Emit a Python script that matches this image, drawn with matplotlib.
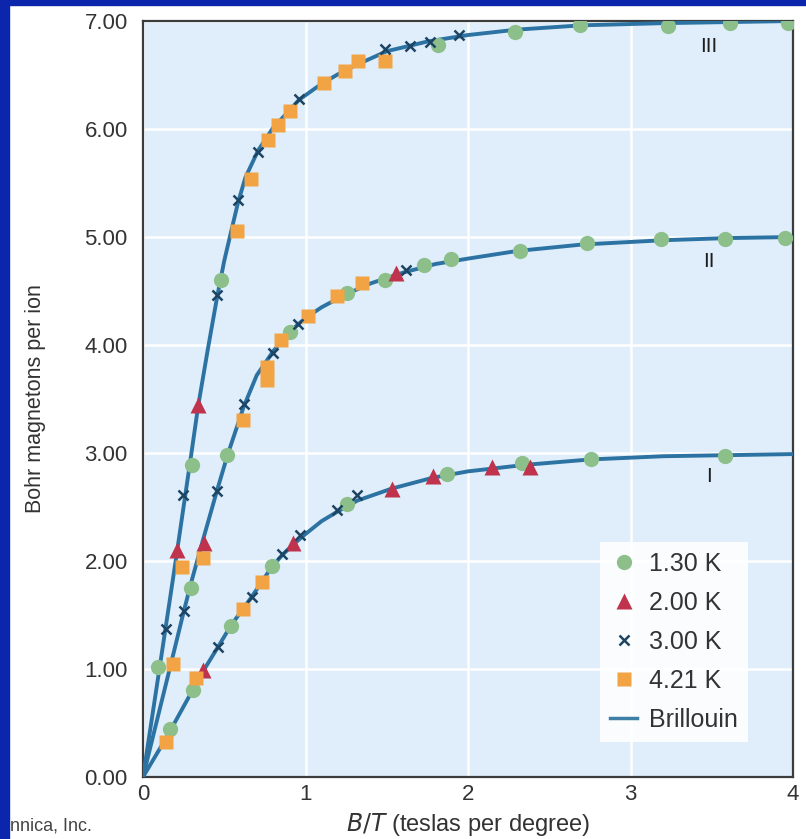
import matplotlib
matplotlib.use("Agg")
import matplotlib.pyplot as plt
from matplotlib.patches import Rectangle

plt.rcParams["font.family"] = ["Liberation Sans", "DejaVu Sans"]

# Measured moments (Bohr magnetons per ion) against B/T, grouped by temperature
t130_x = [0.092, 0.30, 0.48, 1.815, 2.29, 2.69, 3.23, 3.61, 3.97,
          0.295, 0.517, 0.905, 1.255, 1.489, 1.729, 1.895, 2.32, 2.73, 3.19, 3.58, 3.95,
          0.166, 0.308, 0.542, 0.794, 1.255, 1.87, 2.33, 2.757, 3.58]
t130_y = [1.02, 2.89, 4.60, 6.78, 6.90, 6.96, 6.95, 6.98, 6.98,
          1.75, 2.98, 4.12, 4.48, 4.60, 4.74, 4.80, 4.87, 4.94, 4.98, 4.98, 4.99,
          0.444, 0.806, 1.398, 1.954, 2.53, 2.81, 2.91, 2.94, 2.97]

t200_x = [0.209, 0.34,
          0.375, 1.557,
          0.369, 0.923, 1.532, 1.785, 2.148, 2.38]
t200_y = [2.10, 3.44,
          2.17, 4.67,
          0.991, 2.167, 2.67, 2.79, 2.87, 2.87]

t300_x = [0.142, 0.246, 0.458, 0.585, 0.708, 0.96, 1.489, 1.643, 1.766, 1.945,
          0.252, 0.455, 0.622, 0.80, 0.954, 1.618,
          0.462, 0.671, 0.855, 0.966, 1.194, 1.317]
t300_y = [1.37, 2.61, 4.46, 5.34, 5.79, 6.28, 6.74, 6.77, 6.81, 6.87,
          1.537, 2.65, 3.45, 3.93, 4.19, 4.69,
          1.204, 1.667, 2.065, 2.24, 2.47, 2.61]

t421_x = [0.24, 0.578, 0.665, 0.769, 0.831, 0.905, 1.114, 1.243, 1.323, 1.489,
          0.185, 0.369, 0.615, 0.763, 0.763, 0.849, 1.015, 1.194, 1.348,
          0.142, 0.326, 0.615, 0.732]
t421_y = [1.94, 5.06, 5.54, 5.90, 6.04, 6.17, 6.43, 6.54, 6.63, 6.63,
          1.05, 2.03, 3.31, 3.68, 3.80, 4.05, 4.27, 4.45, 4.57,
          0.324, 0.917, 1.556, 1.806]

# Brillouin curves, one per ion (III: J=7/2, II: J=5/2, I: J=3/2)
b3_x = [0, 0.10, 0.20, 0.30, 0.34, 0.40, 0.458, 0.50, 0.55, 0.585, 0.63, 0.708,
        0.80, 0.90, 0.96, 1.10, 1.25, 1.50, 1.75, 2.00, 2.30, 2.70, 3.20, 3.60, 4.00]
b3_y = [0, 0.99, 1.99, 3.02, 3.44, 3.97, 4.46, 4.78, 5.10, 5.32, 5.55, 5.80,
        6.01, 6.17, 6.27, 6.42, 6.55, 6.72, 6.81, 6.87, 6.92, 6.96, 6.98, 6.99, 7.00]
b2_x = [0, 0.10, 0.20, 0.252, 0.30, 0.37, 0.455, 0.52, 0.62, 0.70, 0.80, 0.90,
        1.00, 1.10, 1.25, 1.40, 1.60, 1.80, 2.00, 2.30, 2.70, 3.20, 3.60, 4.00]
b2_y = [0, 0.61, 1.22, 1.54, 1.82, 2.20, 2.65, 2.98, 3.43, 3.72, 3.94, 4.12,
        4.25, 4.35, 4.47, 4.57, 4.67, 4.75, 4.80, 4.87, 4.93, 4.97, 4.99, 5.00]
b1_x = [0, 0.15, 0.30, 0.37, 0.46, 0.54, 0.67, 0.79, 0.86, 0.93, 1.00, 1.10,
        1.20, 1.32, 1.53, 1.78, 2.00, 2.35, 2.75, 3.20, 3.60, 4.00]
b1_y = [0, 0.38, 0.79, 0.98, 1.20, 1.40, 1.67, 1.94, 2.06, 2.16, 2.25, 2.37,
        2.46, 2.56, 2.67, 2.77, 2.83, 2.89, 2.94, 2.97, 2.98, 2.99]

curve_names = ["III", "II", "I"]
curve_label_x = [3.48, 3.48, 3.48]
curve_label_y = [6.76, 4.77, 2.78]

W, H = 806, 839
fig = plt.figure(figsize=(W / 100, H / 100), dpi=100)
fig.patch.set_facecolor("white")

# blue frame strips along the left and top edges
border = "#0b25ad"
fig.patches.append(Rectangle((0, 0), 9 / W, 1, transform=fig.transFigure,
                             color=border, zorder=0))
fig.patches.append(Rectangle((0, 1 - 5 / H), 1, 5 / H, transform=fig.transFigure,
                             color=border, zorder=0))

ax = fig.add_axes([143 / W, (H - 777) / H, 650 / W, 756 / H])
ax.set_facecolor("#dfeefa")

line_c = "#2c73a3"
for bx, by in [(b3_x, b3_y), (b2_x, b2_y), (b1_x, b1_y)]:
    ax.plot(bx, by, color=line_c, lw=2.8, zorder=3, solid_capstyle="round")
ax.plot([], [], color="#3f7fa6", lw=2.5, label="Brillouin")

ax.plot(t130_x, t130_y, "o", ms=11, color="#8dbf8a", mec="none", zorder=4, label="1.30 K")
ax.plot(t200_x, t200_y, "^", ms=11, color="#c0334c", mec="none", zorder=4, label="2.00 K")
ax.plot(t300_x, t300_y, "x", ms=7, mew=1.8, color="#1d4463", zorder=5, label="3.00 K")
ax.plot(t421_x, t421_y, "s", ms=10, color="#f2a445", mec="none", zorder=4, label="4.21 K")

for name, lx, ly in zip(curve_names, curve_label_x, curve_label_y):
    ax.text(lx, ly, name, ha="center", va="center", fontsize=15, color="#1e1e1e",
            zorder=6)

ax.set_xlim(0, 4)
ax.set_ylim(0, 7)
ax.set_xticks([0, 1, 2, 3, 4])
ax.set_yticks(range(8))
ax.set_yticklabels([f"{v:.2f}" for v in range(8)])
ax.grid(True, color="white", lw=1.8)
ax.set_axisbelow(True)
ax.tick_params(length=0, labelsize=16, colors="#333333")
ax.tick_params(axis="y", pad=11)
ax.tick_params(axis="x", pad=5)
for sp in ax.spines.values():
    sp.set_color("#3c3c3c")
    sp.set_linewidth(1.6)

ax.set_xlabel("$\\it{B/T}$ (teslas per degree)", fontsize=17, color="#333333")
ax.xaxis.set_label_coords(0.5, -0.045)
ax.set_ylabel("Bohr magnetons per ion", fontsize=15.5, color="#333333")
ax.yaxis.set_label_coords(-0.149, 0.5)

handles, labels = ax.get_legend_handles_labels()
order = [1, 2, 3, 4, 0]
leg = ax.legend([handles[i] for i in order], [labels[i] for i in order],
                loc="lower left", bbox_to_anchor=(0.703, 0.046), borderaxespad=0,
                fontsize=18, frameon=True, fancybox=False, framealpha=0.85,
                edgecolor="none", handlelength=1.1, handletextpad=0.45,
                labelspacing=0.6, borderpad=0.4)
leg.get_frame().set_facecolor("white")
for t in leg.get_texts():
    t.set_color("#333333")

fig.text(10 / W, 1 - 826 / H, "nnica, Inc.", fontsize=13, color="#444444",
         ha="left", va="center")

fig.savefig("out.png", dpi=100)
